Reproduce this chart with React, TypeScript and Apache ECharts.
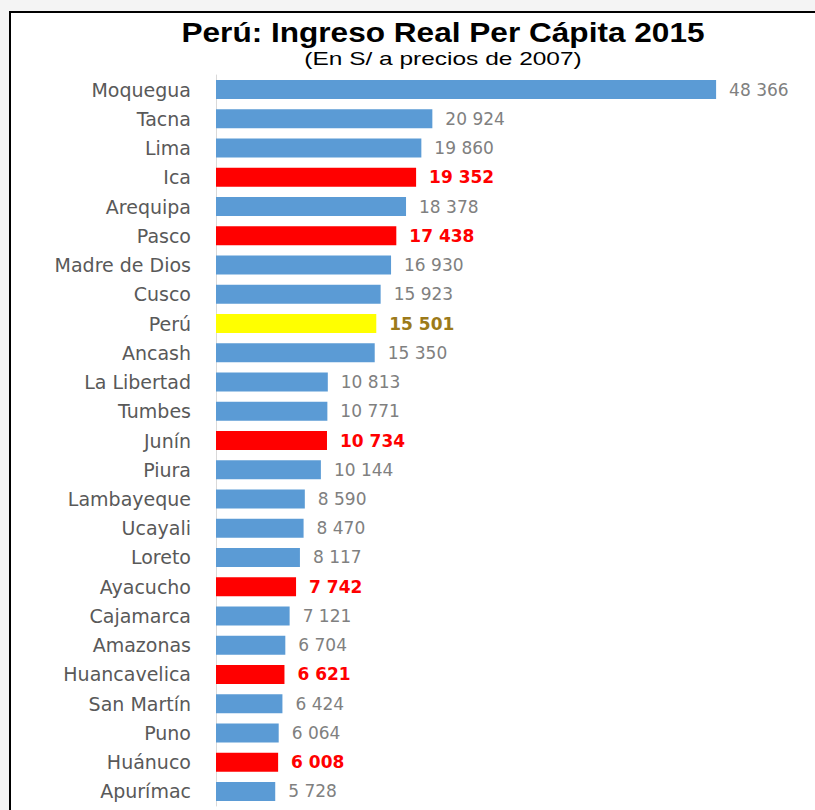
import React, { useEffect, useRef } from "react";
import * as echarts from "echarts";

const categories = [
  "Moquegua", "Tacna", "Lima", "Ica", "Arequipa", "Pasco", "Madre de Dios", "Cusco", "Perú",
  "Ancash", "La Libertad", "Tumbes", "Junín", "Piura", "Lambayeque", "Ucayali", "Loreto",
  "Ayacucho", "Cajamarca", "Amazonas", "Huancavelica", "San Martín", "Puno", "Huánuco", "Apurímac",
];
const values = [
  48366, 20924, 19860, 19352, 18378, 17438, 16930, 15923, 15501,
  15350, 10813, 10771, 10734, 10144, 8590, 8470, 8117,
  7742, 7121, 6704, 6621, 6424, 6064, 6008, 5728,
];
const highlightRed = ["Ica", "Pasco", "Junín", "Ayacucho", "Huancavelica", "Huánuco"];
const highlightYellow = ["Perú"];

const titleText = "Perú: Ingreso Real Per Cápita 2015";
const subtitleText = "(En S/ a precios de 2007)";

const fmt = (v: number) => String(v).replace(/\B(?=(\d{3})+(?!\d))/g, " ");

export default function App() {
  const ref = useRef<HTMLDivElement>(null);
  useEffect(() => {
    if (!ref.current) return;
    const chart = echarts.init(ref.current, undefined, { renderer: "svg" });
    const data = categories.map((c, i) => {
      const red = highlightRed.includes(c);
      const yellow = highlightYellow.includes(c);
      return {
        value: values[i],
        itemStyle: { color: red ? "#ff0000" : yellow ? "#ffff00" : "#5b9bd5" },
        label: red
          ? { color: "#ff0000", fontWeight: "bold" }
          : yellow
          ? { color: "#9c7a1a", fontWeight: "bold" }
          : { color: "#808080", fontWeight: "normal" },
      };
    });
    chart.setOption({
      animation: false,
      backgroundColor: "#f4f4f4",
      graphic: [
        {
          type: "rect",
          z: -10,
          silent: true,
          shape: { x: 10, y: 12, width: 900, height: 900 },
          style: { fill: "#ffffff", stroke: "#000000", lineWidth: 2 },
        },
        {
          type: "text",
          x: 443,
          y: 19,
          scaleX: 1.17,
          style: {
            text: titleText,
            align: "center",
            verticalAlign: "top",
            fontFamily: "Liberation Sans",
            fontWeight: "bold",
            fontSize: 27,
            fill: "#000000",
          },
        },
        {
          type: "text",
          x: 443,
          y: 50,
          scaleX: 1.36,
          style: {
            text: subtitleText,
            align: "center",
            verticalAlign: "top",
            fontFamily: "Liberation Sans",
            fontSize: 18,
            fill: "#000000",
          },
        },
      ],
      grid: { left: 216, right: 82, top: 75, bottom: 4, containLabel: false },
      xAxis: {
        type: "value",
        min: 0,
        max: 50000,
        show: false,
      },
      yAxis: {
        type: "category",
        data: categories,
        inverse: true,
        axisLine: { show: true, lineStyle: { color: "#d9d9d9", width: 1 } },
        axisTick: { show: false },
        axisLabel: {
          margin: 25,
          color: "#595959",
          fontFamily: "DejaVu Sans",
          fontSize: 19,
        },
      },
      series: [
        {
          type: "bar",
          data,
          barWidth: 19,
          label: {
            show: true,
            position: "right",
            distance: 13,
            fontFamily: "DejaVu Sans",
            fontSize: 17,
            formatter: (p: any) => fmt(p.value),
          },
        },
      ],
    });
    return () => chart.dispose();
  }, []);
  return (
    <div
      ref={ref}
      style={{ position: "absolute", left: 0, top: 0, width: 815, height: 810 }}
    />
  );
}
